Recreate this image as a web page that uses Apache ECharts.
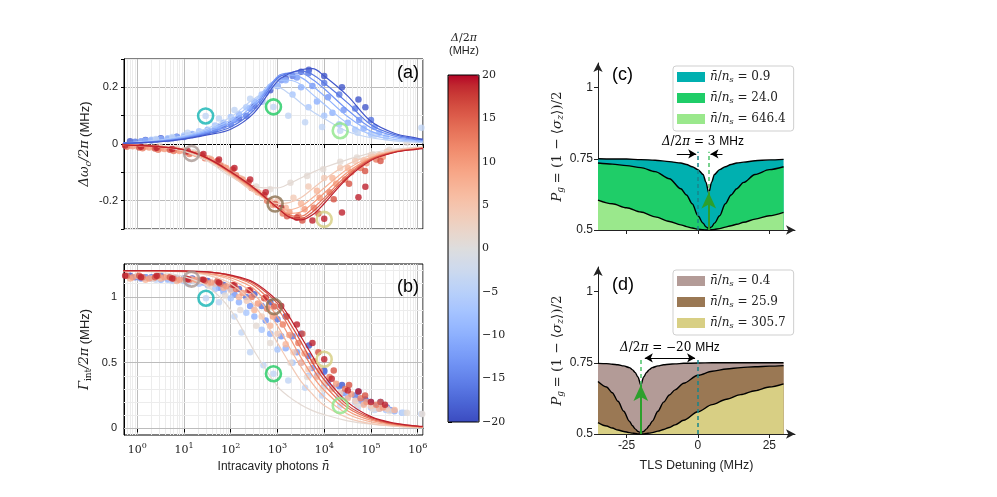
<!DOCTYPE html>
<html><head><meta charset="utf-8">
<script src="https://cdn.jsdelivr.net/npm/echarts@6/dist/echarts.min.js"></script>
<style>html,body{margin:0;padding:0;background:#fff}#c{width:997px;height:497px}</style>
</head><body><div id="c"></div>
<script>
// ---------------- DATA ----------------
const nGrid = [0.5, 1, 3.16, 10, 31.6, 100, 316, 1000, 1778, 3162, 5623, 10000, 31623, 1e5, 3.16e5, 1e6, 1.29e6];
const blueDeltas = [-4, -7, -10, -13, -16, -19];
const shiftFitBlue = [
  [0.005,0.007,0.014,0.03,0.055,0.095,0.16,0.2,0.178,0.145,0.115,0.09,0.044,0.022,0.011,0.006,0.005],
  [0.004,0.006,0.013,0.027,0.05,0.085,0.15,0.225,0.225,0.21,0.175,0.14,0.073,0.033,0.016,0.009,0.008],
  [0.004,0.005,0.011,0.024,0.045,0.076,0.14,0.235,0.243,0.235,0.205,0.17,0.097,0.045,0.022,0.012,0.011],
  [0.003,0.005,0.01,0.021,0.04,0.068,0.13,0.238,0.25,0.25,0.228,0.195,0.12,0.057,0.028,0.015,0.013],
  [0.003,0.004,0.009,0.019,0.036,0.06,0.12,0.232,0.25,0.258,0.245,0.215,0.145,0.068,0.033,0.017,0.015],
  [0.003,0.004,0.008,0.017,0.032,0.052,0.11,0.222,0.248,0.262,0.266,0.24,0.17,0.08,0.038,0.02,0.017]
];
const redDeltas = [1, 4, 7, 10, 13, 16, 19];
const shiftFitRed = [
  [-0.003,-0.005,-0.01,-0.025,-0.06,-0.115,-0.152,-0.155,-0.14,-0.12,-0.1,-0.083,-0.055,-0.032,-0.019,-0.011,-0.01],
  [-0.003,-0.005,-0.01,-0.022,-0.055,-0.11,-0.17,-0.21,-0.207,-0.19,-0.158,-0.125,-0.072,-0.04,-0.022,-0.013,-0.012],
  [-0.003,-0.005,-0.01,-0.021,-0.053,-0.106,-0.165,-0.222,-0.232,-0.22,-0.19,-0.155,-0.088,-0.046,-0.025,-0.015,-0.013],
  [-0.003,-0.005,-0.01,-0.021,-0.052,-0.103,-0.162,-0.225,-0.245,-0.24,-0.21,-0.173,-0.1,-0.05,-0.027,-0.016,-0.014],
  [-0.003,-0.005,-0.01,-0.02,-0.051,-0.101,-0.159,-0.226,-0.252,-0.255,-0.228,-0.19,-0.108,-0.053,-0.028,-0.017,-0.015],
  [-0.003,-0.005,-0.01,-0.02,-0.05,-0.1,-0.157,-0.226,-0.256,-0.263,-0.24,-0.2,-0.115,-0.055,-0.029,-0.017,-0.015],
  [-0.003,-0.005,-0.01,-0.02,-0.05,-0.098,-0.155,-0.225,-0.258,-0.268,-0.25,-0.21,-0.12,-0.058,-0.03,-0.018,-0.016]
];
const gammaFitRed = [
  [1.198,1.195,1.185,1.155,1.08,0.9,0.59,0.32,0.24,0.18,0.135,0.105,0.058,0.032,0.018,0.01,0.009],
  [1.2,1.2,1.195,1.19,1.165,1.1,0.94,0.65,0.5,0.36,0.26,0.175,0.08,0.036,0.017,0.008,0.007],
  [1.2,1.2,1.198,1.192,1.175,1.13,1.02,0.78,0.62,0.47,0.34,0.24,0.11,0.05,0.024,0.011,0.009],
  [1.2,1.2,1.199,1.194,1.18,1.145,1.06,0.85,0.7,0.54,0.4,0.29,0.135,0.062,0.029,0.013,0.011],
  [1.2,1.2,1.2,1.195,1.19,1.158,1.085,0.91,0.77,0.61,0.46,0.33,0.157,0.073,0.032,0.015,0.012],
  [1.2,1.2,1.2,1.196,1.19,1.162,1.1,0.95,0.81,0.66,0.5,0.37,0.175,0.082,0.036,0.016,0.014],
  [1.2,1.2,1.2,1.197,1.19,1.165,1.11,0.97,0.85,0.7,0.55,0.4,0.2,0.09,0.04,0.018,0.015]
];
const dataDeltas = [-19, -16, -13, -10, -7, -4, 1, 4, 7, 10, 13, 16, 19];
const shiftPts = [
  [[0.7,0.01],[1.5,0.014],[3.2,0.02],[7,0.026],[15,0.032],[32,0.045],[70,0.065],[150,0.09],[320,0.135],[700,0.19],[1500,0.232],[3200,0.255],[4700,0.262],[10000,0.24],[24000,0.2],[54000,0.157],[76000,0.13]],
  [[0.9,0.008],[2,0.012],[4.5,0.018],[10,0.025],[21,0.035],[46,0.05],[100,0.07],[215,0.1],[460,0.15],[1000,0.205],[2100,0.24],[4600,0.25],[10000,0.215],[21000,0.175],[46000,0.125],[100000,0.085]],
  [[1.2,0.01],[2.6,0.015],[5.6,0.02],[12,0.03],[26,0.04],[56,0.06],[120,0.085],[260,0.125],[560,0.18],[1200,0.225],[2600,0.235],[5600,0.205],[12000,0.165],[26000,0.12],[56000,0.085],[120000,0.06]],
  [[1.5,0.012],[3.2,0.018],[7,0.025],[15,0.035],[32,0.05],[70,0.075],[150,0.105],[320,0.15],[700,0.2],[1500,0.225],[3200,0.2],[7000,0.15],[15000,0.11],[32000,0.075],[70000,0.055],[150000,0.04]],
  [[2,0.015],[4.5,0.02],[10,0.03],[21,0.045],[46,0.065],[100,0.095],[215,0.13],[460,0.175],[1000,0.205],[2100,0.175],[4600,0.13],[10000,0.1],[21000,0.07],[46000,0.05],[100000,0.035],[210000,0.025]],
  [[2.5,0.018],[5.6,0.025],[12,0.04],[29,0.099],[56,0.09],[120,0.12],[260,0.16],[500,0.15],[820,0.131],[1700,0.1],[3900,0.077],[9000,0.06],[22000,0.047],[52000,0.04],[120000,0.032],[1200000,0.057]],
  [[3,-0.006],[7,-0.015],[16,-0.028],[35,-0.05],[75,-0.085],[160,-0.12],[350,-0.15],[700,-0.16],[1900,-0.137],[4300,-0.113],[9500,-0.089],[22000,-0.063],[50000,-0.048],[110000,-0.036],[250000,-0.02],[590000,0.004]],
  [[1,-0.008],[2.2,-0.012],[4.6,-0.016],[10,-0.022],[22,-0.04],[46,-0.065],[100,-0.1],[220,-0.14],[460,-0.175],[1000,-0.2],[2200,-0.19],[4600,-0.15],[10000,-0.12],[22000,-0.085],[46000,-0.06],[100000,-0.04],[220000,-0.027]],
  [[0.7,-0.005],[1.5,-0.01],[3.2,-0.015],[7,-0.02],[14.5,-0.033],[32,-0.05],[70,-0.08],[150,-0.12],[320,-0.16],[700,-0.2],[1500,-0.225],[3200,-0.21],[7000,-0.165],[15000,-0.12],[32000,-0.085],[70000,-0.058],[150000,-0.04]],
  [[0.8,-0.008],[1.8,-0.012],[3.8,-0.018],[8,-0.025],[18,-0.035],[38,-0.055],[80,-0.085],[180,-0.125],[380,-0.17],[800,-0.215],[1800,-0.24],[3800,-0.23],[8000,-0.19],[18000,-0.14],[38000,-0.1],[80000,-0.068],[180000,-0.045]],
  [[0.6,-0.01],[1.3,-0.015],[2.8,-0.02],[6,-0.025],[13,-0.035],[28,-0.05],[60,-0.075],[130,-0.11],[280,-0.155],[600,-0.2],[1300,-0.245],[2800,-0.255],[6000,-0.225],[13000,-0.17],[28000,-0.125],[60000,-0.085],[130000,-0.055]],
  [[1.1,-0.012],[2.4,-0.016],[5,-0.02],[11,-0.028],[24,-0.04],[52,-0.06],[110,-0.09],[240,-0.135],[520,-0.18],[890,-0.212],[1600,-0.255],[3400,-0.27],[7500,-0.245],[16000,-0.195],[34000,-0.14],[75000,-0.095],[160000,-0.06]],
  [[0.55,-0.005],[1.2,-0.01],[2.6,-0.013],[5.6,-0.018],[12,-0.025],[26,-0.035],[56,-0.055],[120,-0.085],[260,-0.125],[560,-0.17],[1200,-0.225],[2600,-0.26],[5600,-0.27],[10000,-0.264],[24000,-0.242],[54000,-0.188],[76000,-0.151]]
];
const gammaPts = [
  [[0.7,1.16],[1.5,1.15],[3.2,1.16],[7,1.14],[15,1.14],[32,1.12],[70,1.09],[150,1.06],[320,1.02],[700,0.96],[1500,0.85],[3200,0.72],[4700,0.63],[10000,0.44],[24000,0.33],[54000,0.28],[76000,0.22],[160000,0.2]],
  [[0.9,1.15],[2,1.15],[4.5,1.14],[10,1.14],[21,1.12],[46,1.1],[100,1.06],[215,1.0],[460,0.93],[1000,0.83],[2100,0.7],[4600,0.55],[10000,0.43],[21000,0.32],[46000,0.25],[100000,0.2],[220000,0.16]],
  [[1.2,1.14],[2.6,1.15],[5.6,1.13],[12,1.13],[26,1.11],[56,1.07],[120,1.02],[260,0.93],[560,0.82],[1200,0.7],[2600,0.58],[5600,0.46],[12000,0.35],[26000,0.27],[56000,0.21],[120000,0.17],[260000,0.14]],
  [[1.5,1.15],[3.2,1.13],[7,1.13],[15,1.12],[32,1.09],[70,1.04],[150,0.96],[320,0.85],[700,0.72],[1500,0.61],[3200,0.5],[7000,0.4],[15000,0.31],[32000,0.24],[70000,0.19],[150000,0.15],[320000,0.13]],
  [[2,1.14],[4.5,1.13],[10,1.12],[21,1.1],[46,1.06],[100,0.99],[215,0.88],[460,0.75],[1000,0.6],[2100,0.5],[4600,0.4],[10000,0.32],[21000,0.25],[46000,0.2],[100000,0.16],[210000,0.14],[460000,0.12]],
  [[2.5,1.13],[5.6,1.12],[12,1.1],[29.5,0.99],[56,0.96],[120,0.85],[170,0.73],[260,0.58],[500,0.48],[820,0.416],[1700,0.365],[3900,0.31],[9000,0.25],[22000,0.174],[52000,0.16],[120000,0.14],[500000,0.12],[1200000,0.11]],
  [[3,1.15],[7,1.14],[16,1.12],[35,1.08],[75,1.01],[160,0.9],[350,0.78],[700,0.65],[1900,0.5],[4300,0.39],[9500,0.3],[22000,0.23],[50000,0.18],[110000,0.15],[250000,0.13],[590000,0.12],[1250000,0.11]],
  [[1,1.16],[2.2,1.14],[4.6,1.15],[10,1.13],[22,1.12],[46,1.1],[100,1.05],[220,0.97],[460,0.85],[1000,0.72],[2200,0.58],[4600,0.45],[10000,0.35],[22000,0.27],[46000,0.21],[100000,0.17],[220000,0.15]],
  [[0.7,1.14],[1.5,1.13],[3.2,1.14],[7,1.12],[14.5,1.135],[32,1.1],[70,1.07],[150,1.0],[320,0.9],[700,0.78],[1500,0.64],[3200,0.5],[7000,0.39],[15000,0.3],[32000,0.23],[70000,0.18],[150000,0.15],[320000,0.14]],
  [[0.8,1.15],[1.8,1.14],[3.8,1.15],[8,1.13],[18,1.13],[38,1.11],[80,1.08],[180,1.03],[380,0.95],[800,0.85],[1800,0.71],[3800,0.57],[8000,0.44],[18000,0.34],[38000,0.26],[80000,0.2],[180000,0.16]],
  [[0.6,1.16],[1.3,1.15],[2.8,1.16],[6,1.14],[13,1.13],[28,1.12],[60,1.1],[130,1.06],[280,1.0],[600,0.91],[1300,0.79],[2800,0.65],[6000,0.51],[13000,0.39],[28000,0.3],[60000,0.23],[130000,0.18]],
  [[1.1,1.16],[2.4,1.15],[5,1.15],[11,1.14],[24,1.13],[52,1.12],[110,1.09],[240,1.05],[520,0.99],[850,0.926],[1600,0.85],[3400,0.72],[7500,0.58],[16000,0.44],[34000,0.33],[75000,0.25],[160000,0.2]],
  [[0.55,1.16],[1.2,1.15],[2.6,1.16],[5.6,1.14],[12,1.135],[26,1.13],[56,1.11],[120,1.09],[260,1.05],[560,0.995],[1200,0.93],[2600,0.79],[5600,0.65],[10000,0.526],[14500,0.378],[32000,0.288],[54000,0.28],[100000,0.2],[200000,0.18]]
];
const circleShift = [[29,0.099],[820,0.131],[22000,0.047],[14.5,-0.033],[890,-0.212],[10000,-0.266]];
const circleGamma = [[29.5,0.99],[820,0.416],[22000,0.174],[14.5,1.135],[850,0.926],[10000,0.526]];

const detC = [-35,-30,-25,-20,-15,-10,-6,-4,-2,0,1.8,2.8,3.8,4.8,5.8,7.6,9.6,11.6,13.6,16,20,25,30];
const pgC1 = [0.75,0.749,0.749,0.747,0.745,0.74,0.735,0.73,0.722,0.712,0.695,0.668,0.63,0.668,0.695,0.712,0.722,0.73,0.735,0.738,0.743,0.746,0.748];
const pgC2 = [0.735,0.731,0.726,0.719,0.705,0.68,0.645,0.623,0.592,0.55,0.524,0.511,0.505,0.511,0.524,0.55,0.592,0.623,0.645,0.667,0.695,0.712,0.722];
const pgC3 = [0.605,0.592,0.578,0.563,0.546,0.53,0.518,0.512,0.507,0.503,0.501,0.5,0.5,0.501,0.502,0.505,0.51,0.515,0.52,0.527,0.538,0.55,0.562];
const legendC = ['0.9', '24.0', '646.4'];
const detD = [-35,-32,-30,-28,-26,-24,-23,-22,-21,-20,-19,-18,-17,-16,-14,-12,-10,-8,-5,0,5,10,15,20,25,30];
const pgD1 = [0.748,0.747,0.745,0.743,0.739,0.733,0.726,0.716,0.7,0.672,0.7,0.716,0.726,0.733,0.739,0.743,0.745,0.746,0.748,0.749,0.75,0.75,0.75,0.75,0.75,0.75];
const pgD2 = [0.684,0.665,0.645,0.615,0.58,0.545,0.53,0.518,0.509,0.505,0.509,0.518,0.53,0.545,0.58,0.612,0.637,0.655,0.678,0.706,0.72,0.728,0.733,0.736,0.738,0.74];
const pgD3 = [0.54,0.528,0.521,0.514,0.509,0.505,0.503,0.502,0.5,0.5,0.5,0.502,0.503,0.505,0.51,0.516,0.523,0.532,0.548,0.578,0.603,0.622,0.638,0.652,0.665,0.676];
const legendD = ['0.4', '25.9', '305.7'];
const deltaC = 3.8, deltaD = -20;   // pump positions
const minorYB = [0.1,0.2,0.3,0.4,0.6,0.7,0.8,0.9,1.1,1.2];
const majorYB = [0, 0.5, 1];

// ---------------- STYLE ----------------
const MORELAND = [[59,76,192],[68,90,204],[77,104,215],[87,117,225],[98,130,234],[108,142,241],[119,154,247],[130,165,251],[141,176,254],[152,185,255],[163,194,255],[174,201,253],[184,208,249],[194,213,244],[204,217,238],[213,219,230],[221,221,221],[229,216,209],[236,211,197],[241,204,185],[245,196,173],[247,187,160],[247,177,148],[247,166,135],[244,154,123],[241,141,111],[236,127,99],[229,112,88],[222,96,77],[213,80,66],[203,62,56],[192,40,47],[180,4,38]];
function cw(d){ const t=Math.max(0,Math.min(1,(d+20)/40))*32; const i=Math.min(31,Math.floor(t)); const f=t-i; const a=MORELAND[i], b=MORELAND[i+1];
  return 'rgb('+Math.round(a[0]+(b[0]-a[0])*f)+','+Math.round(a[1]+(b[1]-a[1])*f)+','+Math.round(a[2]+(b[2]-a[2])*f)+')'; }
const cmapHex = MORELAND.map(c=>'rgb('+c.join(',')+')');
const circleColors = ['#13b4b4','#1fcb62','#8ee68a','#a99792','#8c7150','#d6cd80'];
const fillC = ['#00b0b0','#1fcd68','#9ae88c'];
const fillD = ['#b39b97','#9a7854','#d8cf84'];
const SANS = 'Liberation Sans', SERIF = 'DejaVu Serif';
const XMIN = 0.52, XMAX = 1.3e6;

const minorX = [];
for (let e=-1; e<=6; e++) for (let m=2; m<=9; m++){ const v=m*Math.pow(10,e); if (v>XMIN && v<XMAX) minorX.push(v); }
function near(v,t){ return Math.abs(v-t)<1e-6; }

const richMath = {
  i:{fontFamily:SERIF,fontStyle:'italic',fontSize:12,color:'#222'},
  r:{fontFamily:SERIF,fontSize:12,color:'#222'},
  s:{fontFamily:SERIF,fontStyle:'italic',fontSize:8,color:'#222',padding:[6,0,0,0]},
  t:{fontFamily:SANS,fontSize:12,color:'#222'}
};
const richMathBig = {
  i:{fontFamily:SERIF,fontStyle:'italic',fontSize:13.5,color:'#222'},
  r:{fontFamily:SERIF,fontSize:13.5,color:'#222'},
  s:{fontFamily:SERIF,fontStyle:'italic',fontSize:9,color:'#222',padding:[7,0,0,0]}
};

const chart = echarts.init(document.getElementById('c'));
const series = [];
function gridLines(g,data,color){ return {type:'line',xAxisIndex:g,yAxisIndex:g,data:[],silent:true,z:1,
  markLine:{silent:true,z:1,symbol:'none',animation:false,label:{show:false},lineStyle:{color:color,width:1,type:'solid'},data:data}}; }
series.push(gridLines(0,minorX.map(v=>({xAxis:v})),'#ececec'));
series.push(gridLines(1,minorX.map(v=>({xAxis:v})).concat(minorYB.map(v=>({yAxis:v}))),'#ececec'));
series.push(gridLines(1,majorYB.map(v=>({yAxis:v})),'#bcbcbc'));
// scatter (a),(b)
dataDeltas.forEach((d,k)=>{
  series.push({type:'scatter',xAxisIndex:0,yAxisIndex:0,data:shiftPts[k],symbolSize:6.5,itemStyle:{color:cw(d)},z:2,silent:true});
  series.push({type:'scatter',xAxisIndex:1,yAxisIndex:1,data:gammaPts[k],symbolSize:6.5,itemStyle:{color:cw(d)},z:2,silent:true});
});
// fitted lines (a),(b)
blueDeltas.forEach((d,k)=>series.push({type:'line',xAxisIndex:0,yAxisIndex:0,data:nGrid.map((n,j)=>[n,shiftFitBlue[k][j]]),smooth:0.35,showSymbol:false,lineStyle:{color:cw(d),width:1.2},z:3,silent:true}));
redDeltas.forEach((d,k)=>series.push({type:'line',xAxisIndex:0,yAxisIndex:0,data:nGrid.map((n,j)=>[n,shiftFitRed[k][j]]),smooth:0.35,showSymbol:false,lineStyle:{color:cw(d),width:1.2},z:3,silent:true}));
redDeltas.forEach((d,k)=>series.push({type:'line',xAxisIndex:1,yAxisIndex:1,data:nGrid.map((n,j)=>[n,gammaFitRed[k][j]]),smooth:0.35,showSymbol:false,lineStyle:{color:cw(d),width:1.2},z:3,silent:true}));
// highlight circles
series.push({type:'scatter',xAxisIndex:0,yAxisIndex:0,symbolSize:15,z:6,silent:true,data:circleShift.map((p,k)=>({value:p,itemStyle:{color:'rgba(0,0,0,0)',borderColor:circleColors[k],borderWidth:2.6}}))});
series.push({type:'scatter',xAxisIndex:1,yAxisIndex:1,symbolSize:15,z:6,silent:true,data:circleGamma.map((p,k)=>({value:p,itemStyle:{color:'rgba(0,0,0,0)',borderColor:circleColors[k],borderWidth:2.6}}))});
// colorbar dummy
const cbIndex = series.length;
series.push({type:'scatter',xAxisIndex:2,yAxisIndex:2,data:[],silent:true});
// (c) and (d) filled regions
function areaSeries(g,name,xs,ys,fill){ return {type:'line',name:name,xAxisIndex:g,yAxisIndex:g,data:xs.map((x,j)=>[x,ys[j]]),smooth:0.3,smoothMonotone:'x',showSymbol:false,silent:true,
  itemStyle:{color:fill},lineStyle:{color:'#000',width:1.4},areaStyle:{color:fill,opacity:1,origin:'start'},z:2}; }
[pgC1,pgC2,pgC3].forEach((ys,k)=>series.push(areaSeries(3,legendC[k],detC,ys,fillC[k])));
[pgD1,pgD2,pgD3].forEach((ys,k)=>series.push(areaSeries(4,legendD[k],detD,ys,fillD[k])));
series.push({type:'line',xAxisIndex:3,yAxisIndex:3,data:[],silent:true,z:6,markLine:{silent:true,animation:false,label:{show:false},symbolSize:[7,8],
  data:[
    [{coord:[0,0.5],symbol:'none',lineStyle:{color:'#17858a',type:[4,3],width:1.5}},{coord:[0,0.775],symbol:'none'}],
    [{coord:[deltaC,0.5],symbol:'none',lineStyle:{color:'#4cc46a',type:[4,3],width:1.5}},{coord:[deltaC,0.775],symbol:'none'}],
    [{coord:[-7.4,0.767],symbol:'none',lineStyle:{color:'#000',type:'solid',width:1}},{coord:[-0.6,0.767],symbol:'arrow'}],
    [{coord:[8.6,0.767],symbol:'none',lineStyle:{color:'#000',type:'solid',width:1}},{coord:[4.4,0.767],symbol:'arrow'}]
  ]}});
series.push({type:'line',xAxisIndex:3,yAxisIndex:3,data:[],silent:true,z:7,markLine:{silent:true,z:7,animation:false,label:{show:false},symbolSize:[11,16],
  data:[[{coord:[deltaC,0.5],symbol:'none',lineStyle:{color:'#2ca02c',type:'solid',width:2}},{coord:[deltaC,0.632],symbol:'arrow'}]]}});
series.push({type:'line',xAxisIndex:4,yAxisIndex:4,data:[],silent:true,z:6,markLine:{silent:true,animation:false,label:{show:false},symbolSize:[7,8],
  data:[
    [{coord:[0,0.5],symbol:'none',lineStyle:{color:'#17858a',type:[4,3],width:1.5}},{coord:[0,0.77],symbol:'none'}],
    [{coord:[deltaD,0.5],symbol:'none',lineStyle:{color:'#4cc46a',type:[4,3],width:1.5}},{coord:[deltaD,0.77],symbol:'none'}],
    [{coord:[-18.6,0.767],symbol:'arrow',lineStyle:{color:'#000',type:'solid',width:1}},{coord:[-1,0.767],symbol:'arrow'}]
  ]}});
series.push({type:'line',xAxisIndex:4,yAxisIndex:4,data:[],silent:true,z:7,markLine:{silent:true,z:7,animation:false,label:{show:false},symbolSize:[11,16],
  data:[[{coord:[deltaD,0.5],symbol:'none',lineStyle:{color:'#2ca02c',type:'solid',width:2}},{coord:[deltaD,0.672],symbol:'arrow'}]]}});

const logLabel = {show:true,margin:7,showMinLabel:false,showMaxLabel:false,formatter:v=>'{b|10}{e|'+Math.round(Math.log10(v))+'}',
  rich:{b:{fontFamily:SERIF,fontSize:11,color:'#222'},e:{fontFamily:SERIF,fontSize:8,color:'#222',padding:[0,0,8,0]}}};
function logAxis(g,withLabels){ return {gridIndex:g,type:'log',logBase:10,min:XMIN,max:XMAX,
  axisLine:{show:true,lineStyle:{color:'#000'}},axisTick:{show:true,length:4,lineStyle:{color:'#000'}},
  axisLabel:withLabels?logLabel:{show:false},splitLine:{show:true,lineStyle:{color:'#bcbcbc',width:1}},
  name:withLabels?'Intracavity photons {i|n\u0304}':'',nameLocation:'middle',nameGap:26,
  nameTextStyle:{fontFamily:SANS,fontSize:12,color:'#222',rich:{i:{fontFamily:SERIF,fontStyle:'italic',fontSize:12,color:'#222'}}}}; }
function arrowAxisX(g,labels){ return {gridIndex:g,type:'value',min:-35,max:34,
  axisLine:{show:true,onZero:false,lineStyle:{color:'#222',width:1},symbol:['none','arrow'],symbolSize:[7,9]},
  axisTick:{show:true,length:4,customValues:[-25,0,25],lineStyle:{color:'#222'}},
  axisLabel:{show:labels,customValues:[-25,0,25],fontFamily:SANS,fontSize:12,color:'#222',margin:6,formatter:v=>''+v},
  splitLine:{show:false},
  name:labels?'TLS Detuning (MHz)':'',nameLocation:'middle',nameGap:25,nameTextStyle:{fontFamily:SANS,fontSize:12.5,color:'#222'}}; }
function arrowAxisY(g){ return {gridIndex:g,type:'value',min:0.5,max:1.086,
  axisLine:{show:true,onZero:false,lineStyle:{color:'#222',width:1},symbol:['none','arrow'],symbolSize:[7,9]},
  axisTick:{show:true,length:4,customValues:[0.5,0.75,1],lineStyle:{color:'#222'}},
  axisLabel:{customValues:[0.5,0.75,1],fontFamily:SANS,fontSize:12,color:'#222',margin:5,formatter:v=>near(v,1)?'1':(''+v)},
  splitLine:{show:false},
  name:'{i|P}{s|g} {r|= (1 − ⟨}{i|σ}{s|z}{r|⟩)/2}',nameLocation:'middle',nameGap:33,nameRotate:90,
  nameTextStyle:{rich:richMathBig}}; }
const yNameRich = {m:{fontFamily:SERIF,fontStyle:'italic',fontSize:13,color:'#222'},s:{fontFamily:SERIF,fontStyle:'italic',fontSize:9,color:'#222',padding:[7,0,0,0]},
  sr:{fontFamily:SERIF,fontSize:9,color:'#222',padding:[7,0,0,0]},t:{fontFamily:SANS,fontSize:13,color:'#222'}};

const option = {
  animation:false,
  backgroundColor:'#fff',
  grid:[
    {left:124,top:59,width:299,height:170,show:true,borderColor:'#000',borderWidth:1,backgroundColor:'rgba(0,0,0,0)'},
    {left:124,top:264,width:299,height:171,show:true,borderColor:'#000',borderWidth:1,backgroundColor:'rgba(0,0,0,0)'},
    {left:448,top:75,width:31,height:347,show:true,borderColor:'#000',borderWidth:1,backgroundColor:'rgba(0,0,0,0)',z:10},
    {left:598,top:63,width:197,height:167},
    {left:598,top:267,width:197,height:167}
  ],
  xAxis:[logAxis(0,false),logAxis(1,true),{gridIndex:2,type:'value',show:false},arrowAxisX(3,false),arrowAxisX(4,true)],
  yAxis:[
    {gridIndex:0,type:'value',min:-0.3,max:0.3,interval:0.1,axisTick:{show:true,length:3,lineStyle:{color:'#000'}},axisLine:{show:true,lineStyle:{color:'#000'}},
     axisLabel:{fontFamily:SANS,fontSize:11,color:'#222',margin:6,formatter:v=>near(v,0.2)?'0.2':near(v,0)?'0':near(v,-0.2)?'-0.2':''},
     splitLine:{show:true,lineStyle:{color:['#ececec','#bcbcbc'],width:1}},
     name:'{m|Δω}{s|c}{m|/2π} {t|(MHz)}',nameLocation:'middle',nameRotate:90,nameGap:31,nameTextStyle:{rich:yNameRich}},
    {gridIndex:1,type:'value',min:-0.05,max:1.25,interval:0.05,axisTick:{show:false},axisLine:{show:true,lineStyle:{color:'#000'}},
     axisLabel:{fontFamily:SANS,fontSize:11,color:'#222',margin:7,formatter:v=>near(v,1)?'1':near(v,0.5)?'0.5':near(v,0)?'0':''},
     splitLine:{show:false},
     name:'{m|Γ}{sr|int}{m|/2π} {t|(MHz)}',nameLocation:'middle',nameRotate:90,nameGap:31,nameTextStyle:{rich:yNameRich}},
    {gridIndex:2,type:'value',min:-20,max:20,interval:5,position:'right',axisLine:{show:false},
     axisTick:{show:true,length:4,inside:false,lineStyle:{color:'#000'}},
     axisLabel:{fontFamily:SERIF,fontSize:11,color:'#222',margin:3,formatter:v=>v<0?'−'+(-v):''+v},splitLine:{show:false}},
    arrowAxisY(3),arrowAxisY(4)
  ],
  visualMap:{type:'continuous',min:-20,max:20,seriesIndex:cbIndex,left:448,top:75,itemWidth:31,itemHeight:347,padding:0,
    calculable:false,hoverLink:false,text:null,inRange:{color:cmapHex},z:2},
  legend:[
    {data:legendC,left:673,top:66,orient:'vertical',icon:'rect',itemWidth:28,itemHeight:10,itemGap:8,padding:[5,8,5,4],
     backgroundColor:'#fff',borderColor:'#cfcfcf',borderWidth:1,borderRadius:3,selectedMode:false,itemStyle:{borderWidth:0},
     formatter:n=>'{i|n\u0304}{r|/}{i|n}{s|s}{r| = '+n+'}',textStyle:{rich:richMath}},
    {data:legendD,left:673,top:270,orient:'vertical',icon:'rect',itemWidth:28,itemHeight:10,itemGap:8,padding:[5,8,5,4],
     backgroundColor:'#fff',borderColor:'#cfcfcf',borderWidth:1,borderRadius:3,selectedMode:false,itemStyle:{borderWidth:0},
     formatter:n=>'{i|n\u0304}{r|/}{i|n}{s|s}{r| = '+n+'}',textStyle:{rich:richMath}}
  ],
  series:series
};
chart.setOption(option);

const pc = chart.convertToPixel({gridIndex:3},[1.75,0.81]);
const pd = chart.convertToPixel({gridIndex:4},[-9.8,0.803]);
function lab(t,x,y){ return {type:'text',x:x,y:y,z:20,style:{text:t,font:'18px "Liberation Sans"',fill:'#000'}}; }
chart.setOption({graphic:[
  lab('(a)',397,64), lab('(b)',397,278), lab('(c)',612,66), lab('(d)',612,276),
  {type:'text',x:464,y:33,z:20,style:{text:'{i|Δ}{r|/2}{i|π}',align:'center',rich:{i:{fontFamily:SERIF,fontStyle:'italic',fontSize:11,fill:'#222'},r:{fontFamily:SERIF,fontSize:11,fill:'#222'}}}},
  {type:'text',x:464,y:45,z:20,style:{text:'(MHz)',align:'center',font:'11px "Liberation Sans"',fill:'#222'}},
  {type:'text',x:pc[0],y:pc[1],z:20,style:{text:'{i|Δ}{r|/2}{i|π}{r| = 3 }{t|MHz}',align:'center',verticalAlign:'middle',rich:richMath}},
  {type:'text',x:pd[0],y:pd[1],z:20,style:{text:'{i|Δ}{r|/2}{i|π}{r| = −20 }{t|MHz}',align:'center',verticalAlign:'middle',rich:richMath}}
]});
</script></body></html>
